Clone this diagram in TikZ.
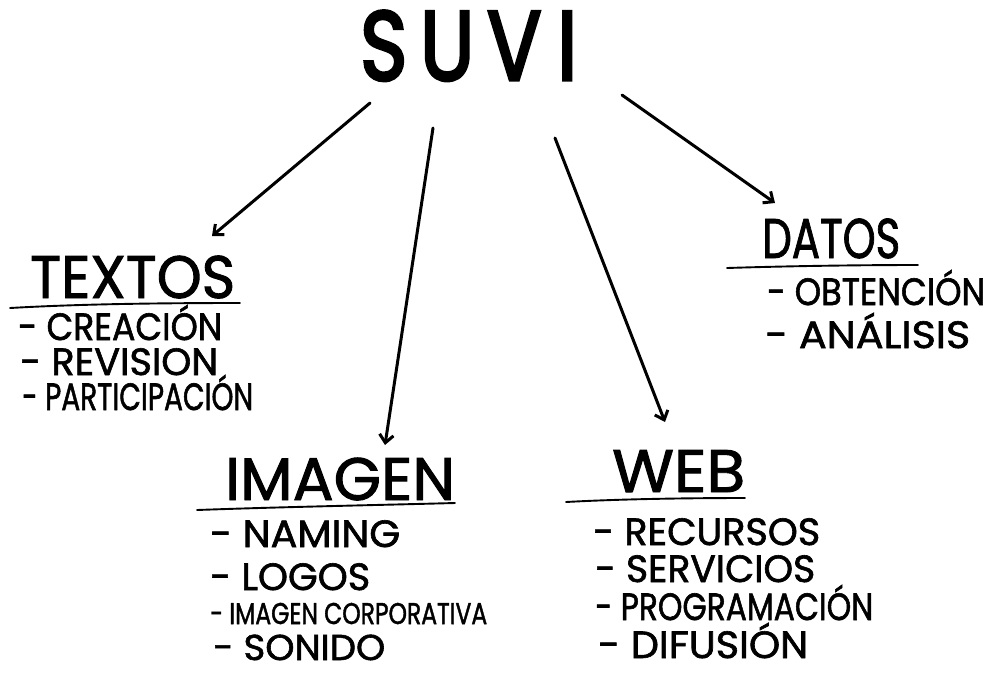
\documentclass[tikz,border=0pt]{standalone}
\usepackage{fontspec}
\setmainfont{Poppins}[FakeBold=1.6]
\usetikzlibrary{arrows.meta}
\newcommand{\fitw}[2]{\resizebox{#1pt}{\height}{#2}}
\begin{document}
\begin{tikzpicture}[x=1pt,y=-1pt,
  title/.style={anchor=base west,inner sep=0pt,font=\fontsize{60}{60}\selectfont},
  item/.style={anchor=base west,inner sep=0pt,font=\fontsize{38}{38}\selectfont},
  arr/.style={line width=3pt,line cap=round,-{Straight Barb[length=8pt,width=14pt,line width=3pt]}},
  uline/.style={line width=1.9pt,line cap=round}]
\useasboundingbox (0,0) rectangle (992,673);
% main title
\node[anchor=base west,inner sep=0pt,font=\fontsize{98}{98}\selectfont\addfontfeatures{FakeBold=3.5}] (suvi) at (360,80) {\fitw{217}{S\hspace{0.16em}U\hspace{0.16em}V\hspace{0.2em}I}};
% arrow ends
\coordinate (s1) at (370,103); \coordinate (e1) at (212,236);
\coordinate (s2) at (433,128); \coordinate (e2) at (385,445);
\coordinate (s3) at (555,138); \coordinate (e3) at (665,422);
\coordinate (s4) at (622,95);  \coordinate (e4) at (775,203);
\draw[arr] (s1) -- (e1);
\draw[arr] (s2) -- (e2);
\draw[arr] (s3) -- (e3);
\draw[arr] (s4) -- (e4);
% TEXTOS
\node[title] (textos) at (30,298) {\fitw{205}{TEXTOS}};
\coordinate (u1a) at (10,308); \coordinate (u1b) at (240,303);
\draw[uline] (u1a) .. controls (80,304) and (160,303) .. (u1b);
\node[item] (t1) at (18,340) {\fitw{204}{- CREACIÓN}};
\node[item] (t2) at (20,375) {\fitw{198}{- REVISION}};
\node[item] (t3) at (22,410) {\fitw{231}{- PARTICIPACIÓN}};
% IMAGEN
\node[title] (imagen) at (225,500) {\fitw{230}{IMAGEN}};
\coordinate (u2a) at (197,510); \coordinate (u2b) at (455,503);
\draw[uline] (u2a) .. controls (280,507) and (380,505) .. (u2b);
\node[item] (i1) at (210,547) {\fitw{190}{- NAMING}};
\node[item] (i2) at (210,590) {\fitw{160}{- LOGOS}};
\node[item,font=\fontsize{30}{30}\selectfont] (i3) at (210,624) {\fitw{277}{- IMAGEN CORPORATIVA}};
\node[item,font=\fontsize{36}{36}\selectfont] (i4) at (213,660) {\fitw{172}{- SONIDO}};
% WEB
\node[title] (web) at (612,492) {\fitw{133}{WEB}};
\coordinate (u3a) at (566,502); \coordinate (u3b) at (745,498);
\draw[uline] (u3a) .. controls (620,499) and (690,498) .. (u3b);
\node[item] (w1) at (593,545) {\fitw{227}{- RECURSOS}};
\node[item] (w2) at (595,582) {\fitw{220}{- SERVICIOS}};
\node[item] (w3) at (595,620) {\fitw{278}{- PROGRAMACIÓN}};
\node[item] (w4) at (598,658) {\fitw{210}{- DIFUSIÓN}};
% DATOS
\node[title,font=\fontsize{56}{56}\selectfont] (datos) at (762,258) {\fitw{138}{DATOS}};
\coordinate (u4a) at (727,268); \coordinate (u4b) at (918,265);
\draw[uline] (u4a) .. controls (790,266) and (860,265) .. (u4b);
\node[item] (d1) at (767,305) {\fitw{218}{- OBTENCIÓN}};
\node[item] (d2) at (765,348) {\fitw{205}{- ANÁLISIS}};
\end{tikzpicture}
\end{document}
